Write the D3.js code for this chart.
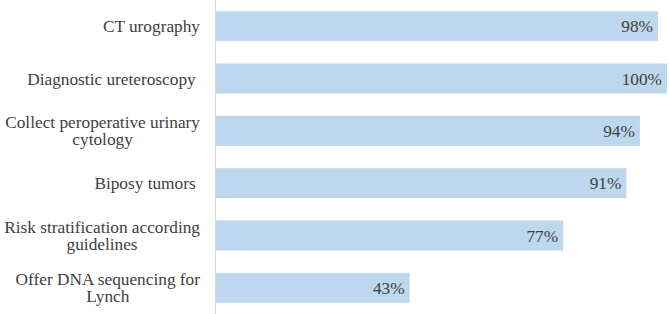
<!DOCTYPE html>
<html><head><meta charset="utf-8">
<script src="https://cdn.jsdelivr.net/npm/d3@7"></script>
<style>html,body{margin:0;padding:0;background:#fff;}svg{display:block;}</style>
</head><body>
<svg id="chart" width="669" height="314"></svg>
<script>
const categories = [
  ["CT urography"],
  ["Diagnostic ureteroscopy "],
  ["Collect peroperative urinary", "cytology"],
  ["Biposy tumors "],
  ["Risk stratification according", "guidelines"],
  ["Offer DNA sequencing for", "Lynch"]
];
const values = [98, 100, 94, 91, 77, 43];
const valueLabels = ["98%", "100%", "94%", "91%", "77%", "43%"];

const W = 669, H = 314;
const svg = d3.select("#chart");
const font = "'Liberation Serif','Times New Roman',serif";
const keys = categories.map((c, i) => i);

const x = d3.scaleLinear().domain([0, 100]).range([215.5, 667]);
const y = d3.scaleBand().domain(keys).range([0, H]).paddingInner(0.427).paddingOuter(0.2135);

svg.selectAll("rect.bar").data(values).join("rect")
  .attr("class", "bar")
  .attr("x", x(0))
  .attr("y", (d, i) => y(i))
  .attr("width", d => x(d) - x(0))
  .attr("height", y.bandwidth())
  .attr("fill", "#BDD7EE");

svg.append("line")
  .attr("x1", x(0)).attr("x2", x(0))
  .attr("y1", 0).attr("y2", H)
  .attr("stroke", "#D9D9D9").attr("stroke-width", 1);

const fs = 17.3;
svg.selectAll("text.val").data(values).join("text")
  .attr("class", "val")
  .attr("x", d => x(d) - 5)
  .attr("y", (d, i) => y(i) + y.bandwidth() / 2 + 6)
  .attr("text-anchor", "end")
  .attr("font-family", font)
  .attr("font-size", fs)
  .attr("fill", "#404040")
  .text((d, i) => valueLabels[i]);

const lineH = 17.3;
categories.forEach((lines, i) => {
  const cy = y(i) + y.bandwidth() / 2;
  const t = svg.append("text")
    .attr("font-family", font)
    .attr("font-size", fs)
    .attr("fill", "#404040")
    .attr("text-anchor", "middle")
    .style("white-space", "pre");
  const spans = lines.map((ln, j) => t.append("tspan")
    .attr("y", cy + 6 + (j - (lines.length - 1) / 2) * lineH)
    .text(ln));
  const maxW = d3.max(spans.map(s => s.node().getComputedTextLength()));
  const center = 200 - maxW / 2;
  spans.forEach(s => s.attr("x", center));
});
</script>
</body></html>
